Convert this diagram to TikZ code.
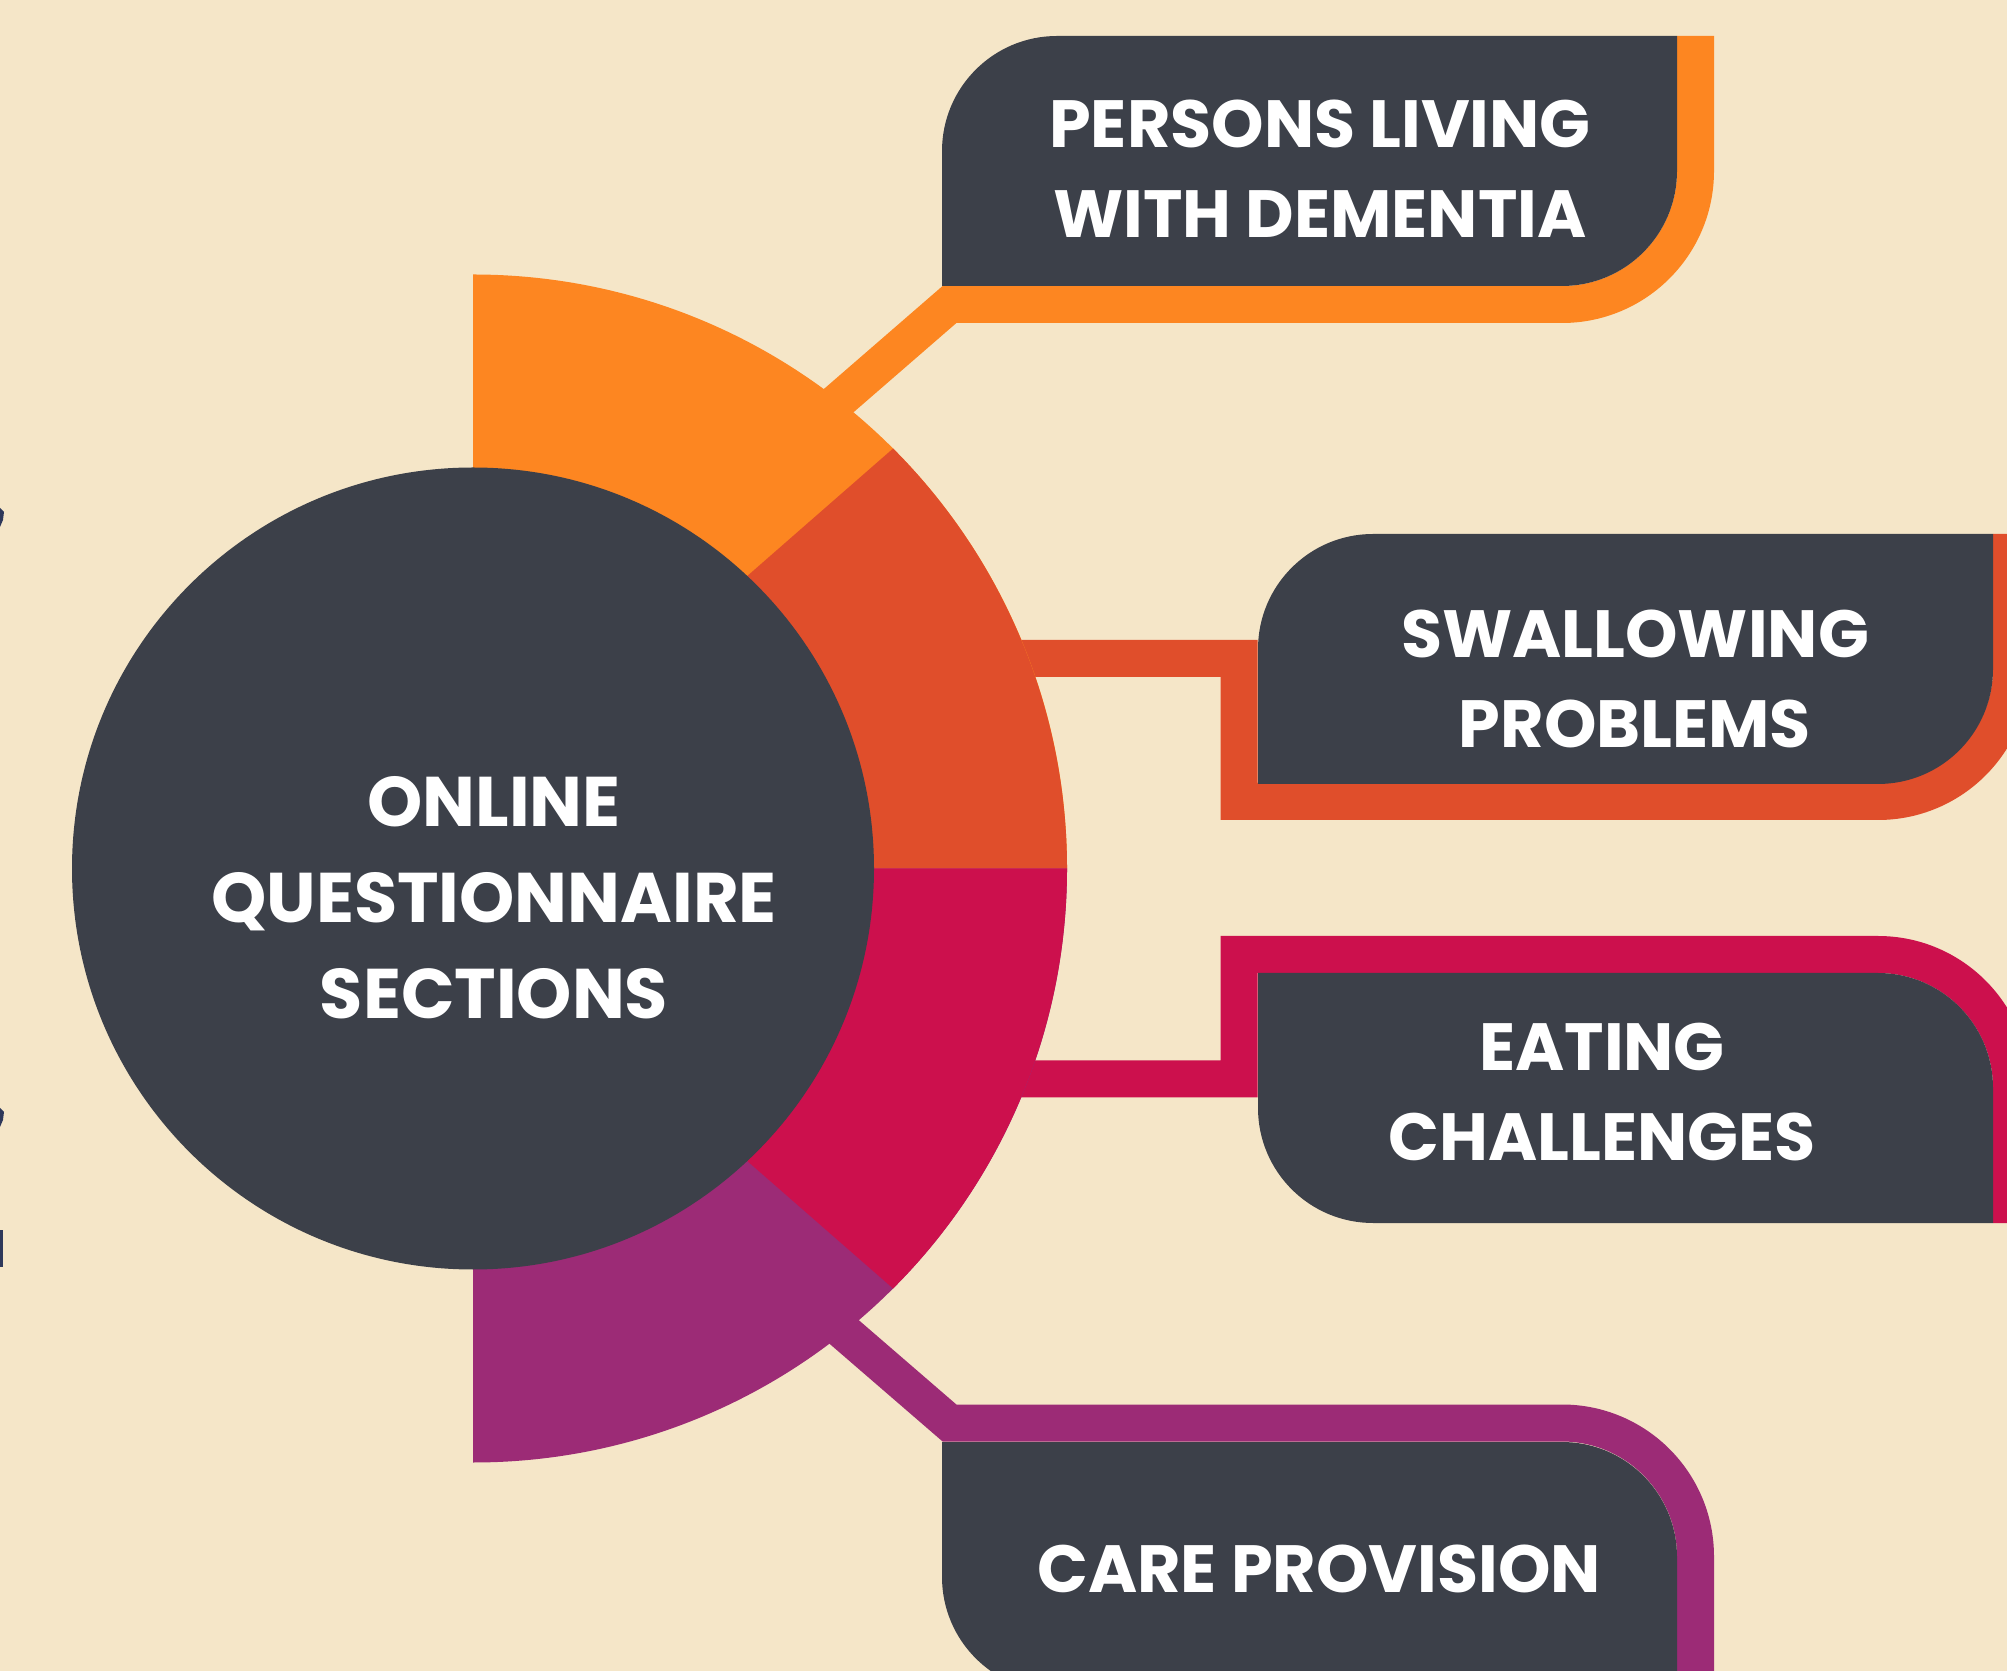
\documentclass[tikz,border=0pt]{standalone}
\usepackage{fontspec}
\setmainfont{Poppins}
\usepackage{xcolor}
\usepackage{tikz}

\definecolor{bgcream}{RGB}{245,230,200}
\definecolor{slate}{RGB}{60,64,73}
\definecolor{segorange}{RGB}{253,134,33}
\definecolor{segred}{RGB}{224,78,43}
\definecolor{segcrimson}{RGB}{204,16,77}
\definecolor{segpurple}{RGB}{156,43,118}
\definecolor{edgenavy}{RGB}{46,56,90}

\begin{document}
\begin{tikzpicture}[x=0.1mm,y=-0.1mm,
	band/.style={line width=3.7mm},
	tag/.style={text=white,align=center,inner sep=0pt,font=\bfseries\fontsize{19}{25.6}\selectfont}]
	\useasboundingbox (0,0) rectangle (2007,1671);
	\clip (0,0) rectangle (2007,1671);
	\fill[bgcream] (0,0) rectangle (2007,1671);

	% cut-off marks at the left edge
	\fill[edgenavy] (0,508) -- (4,512) -- (3,520) -- (0,527) -- cycle;
	\fill[edgenavy] (0,1108) -- (4,1112) -- (3,1120) -- (0,1127) -- cycle;
	\fill[edgenavy] (0,1230) rectangle (3,1267);

	\coordinate (ctr) at (473,868.5);

	% connectors
	\coordinate (r1) at (806,429);
	\coordinate (r2) at (900,658.5);
	\coordinate (r3) at (900,1079);
	\coordinate (r4) at (806,1299);
	\coordinate (k1) at (949.5,304.5);
	\coordinate (k2) at (1239,658.5);
	\coordinate (k3) at (1239,1079);
	\coordinate (k4) at (949.5,1423);
	\draw[band,segorange] (r1) -- (k1) -- (1562,304.5) arc[start angle=90,end angle=0,radius=133.5] -- (1695.5,36);
	\draw[band,segred] (r2) -- (k2) -- (1239,801.5) -- (1878,801.5) arc[start angle=90,end angle=0,radius=133.5] -- (2011.5,534);
	\draw[band,segcrimson] (r3) -- (k3) -- (1239,954.5) -- (1878,954.5) arc[start angle=-90,end angle=0,radius=133.5] -- (2011.5,1223);
	\draw[band,segpurple] (r4) -- (k4) -- (1562,1423) arc[start angle=-90,end angle=0,radius=133.5] -- (1695.5,1700);

	% ring
	\fill[segorange] (ctr) -- +(-90:594) arc[start angle=-90,end angle=0,radius=594] -- cycle;
	\fill[segpurple] (ctr) -- +(0:594) arc[start angle=0,end angle=90,radius=594] -- cycle;
	\fill[segred] (892.2,449.3) -- (634,675) -- (ctr) -- +(0:594) arc[start angle=0,end angle=-45,radius=594] -- cycle;
	\fill[segcrimson] (892.2,1287.7) -- (634,1062) -- (ctr) -- +(0:594) arc[start angle=0,end angle=45,radius=594] -- cycle;
	\fill[slate] (ctr) circle[radius=401];

	% boxes
	\fill[slate] (942,286) -- (942,151) arc[start angle=180,end angle=270,radius=115] -- (1677,36) -- (1677,171) arc[start angle=0,end angle=90,radius=115] -- cycle;
	\fill[slate] (1258,784) -- (1258,649) arc[start angle=180,end angle=270,radius=115] -- (1993,534) -- (1993,669) arc[start angle=0,end angle=90,radius=115] -- cycle;
	\fill[slate] (1258,973) -- (1878,973) arc[start angle=-90,end angle=0,radius=115] -- (1993,1223) -- (1373,1223) arc[start angle=90,end angle=180,radius=115] -- cycle;
	\fill[slate] (942,1442) -- (1562,1442) arc[start angle=-90,end angle=0,radius=115] -- (1677,1692) -- (1057,1692) arc[start angle=90,end angle=180,radius=115] -- cycle;

	\node[tag] (pld) at (1320,168.5) {PERSONS LIVING\\WITH DEMENTIA};
	\node[tag] (swp) at (1635,678.5) {SWALLOWING\\PROBLEMS};
	\node[tag] (eat) at (1602,1092.5) {EATING\\CHALLENGES};
	\node[tag] (care) at (1319,1568.5) {CARE PROVISION};
	\node[tag,font=\bfseries\fontsize{20}{27.3}\selectfont] (hub) at (494,897.5) {ONLINE\\QUESTIONNAIRE\\SECTIONS};
\end{tikzpicture}
\end{document}
